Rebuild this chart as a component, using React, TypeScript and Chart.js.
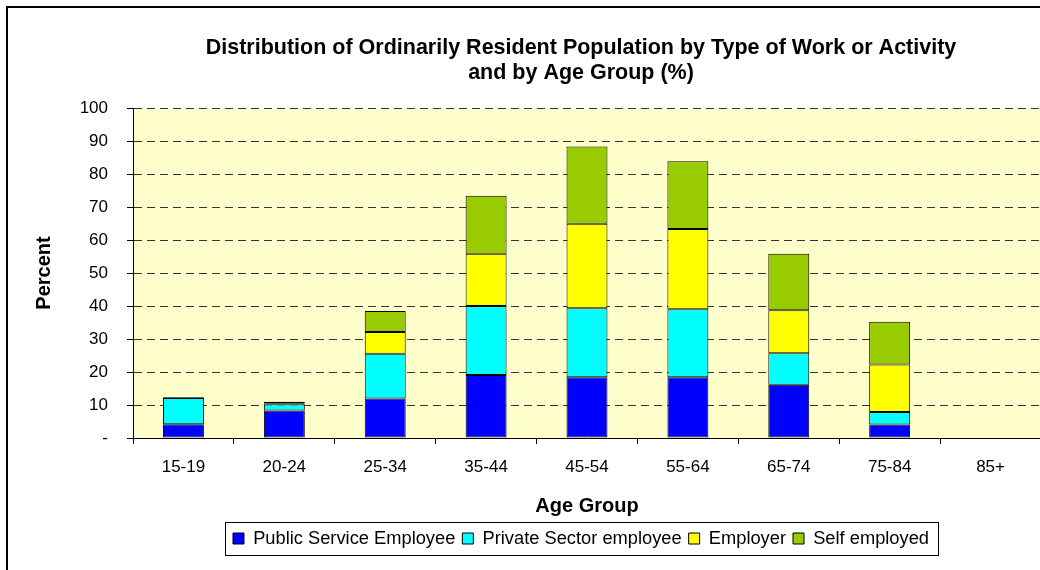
import { useEffect, useRef } from 'react';
import { Chart, registerables } from 'chart.js';

Chart.register(...registerables);

const categories = ['15-19', '20-24', '25-34', '35-44', '45-54', '55-64', '65-74', '75-84', '85+'];
const publicService = [4.2, 8.3, 12.0, 19.1, 18.4, 18.4, 16.1, 4.1, 0];
const privateSector = [7.9, 1.9, 13.5, 20.9, 20.9, 20.6, 9.6, 3.8, 0];
const employer = [0.1, 0.2, 6.6, 15.8, 25.6, 24.3, 13.0, 14.4, 0];
const selfEmployed = [0.2, 0.6, 6.4, 17.6, 23.4, 20.6, 17.1, 12.9, 0];
const seriesNames = ['Public Service Employee', 'Private Sector employee', 'Employer', 'Self employed'];
const seriesColors = ['#0000FF', '#00FFFF', '#FFFF00', '#99CC00'];
const titleLines = [
  'Distribution of Ordinarily Resident Population by Type of Work or Activity',
  'and by Age Group (%)',
];
const xTitle = 'Age Group';
const yTitle = 'Percent';
const yMin = 0;
const yMax = 100;
const yStep = 10;

const FONT = "'Liberation Sans', Arial, Helvetica, sans-serif";

const decorPlugin = {
  id: 'decor',
  beforeDraw(chart: any) {
    const { ctx, chartArea: a } = chart;
    ctx.save();
    ctx.fillStyle = '#ffffff';
    ctx.fillRect(0, 0, chart.width, chart.height);
    ctx.fillStyle = '#FFFFCC';
    ctx.fillRect(a.left, a.top, a.right - a.left, a.bottom - a.top);
    ctx.strokeStyle = '#000000';
    ctx.lineWidth = 2;
    ctx.strokeRect(7, 7, chart.width + 100, chart.height + 100);
    ctx.restore();
  },
  afterDraw(chart: any) {
    const hb = chart.legend && chart.legend.legendHitBoxes;
    if (!hb || !hb.length) return;
    let minL = Infinity;
    let maxR = -Infinity;
    hb.forEach((h: any) => {
      minL = Math.min(minL, h.left);
      maxR = Math.max(maxR, h.left + h.width);
    });
    const cy = hb[0].top + hb[0].height / 2;
    const { ctx } = chart;
    ctx.save();
    ctx.strokeStyle = '#000000';
    ctx.lineWidth = 1;
    const x0 = Math.round(minL - 8) + 0.5;
    const x1 = Math.round(maxR + 9) + 0.5;
    const y0 = Math.round(cy - 16.5) + 0.5;
    ctx.strokeRect(x0, y0, x1 - x0, 33);
    ctx.restore();
  },
};

export default function App() {
  const ref = useRef<HTMLCanvasElement>(null);

  useEffect(() => {
    const canvas = ref.current;
    if (!canvas) return;
    const seriesData = [publicService, privateSector, employer, selfEmployed];
    const chart = new Chart(canvas, {
      type: 'bar',
      data: {
        labels: categories,
        datasets: seriesData.map((d, i) => ({
          label: seriesNames[i],
          data: d,
          backgroundColor: seriesColors[i],
          borderColor: '#000000',
          borderWidth: (c: any) => (c.raw === 0 ? 0 : 1),
          borderSkipped: false,
          barPercentage: 0.406,
          categoryPercentage: 1,
        })),
      },
      options: {
        responsive: false,
        animation: false,
        devicePixelRatio: 1,
        layout: { padding: { left: 8, top: 0, right: 0, bottom: 12.35 } },
        plugins: {
          title: {
            display: true,
            text: titleLines,
            color: '#000000',
            fullSize: true,
            font: { family: FONT, size: 21.5, weight: 'bold', lineHeight: 25 / 21.5 },
            padding: { top: 35.5, bottom: 22.5 },
          },
          legend: {
            display: true,
            position: 'bottom',
            fullSize: true,
            labels: {
              color: '#000000',
              font: { family: FONT, size: 18.3 },
              boxWidth: 11,
              boxHeight: 11,
              padding: 7,
            },
          },
          tooltip: { enabled: false },
        },
        scales: {
          x: {
            stacked: true,
            grid: {
              display: true,
              drawOnChartArea: false,
              drawTicks: true,
              tickLength: 6,
              color: '#000000',
              offset: true,
            },
            border: { display: true, color: '#000000', width: 1 },
            ticks: { color: '#000000', font: { family: FONT, size: 17 }, padding: 12.8, maxRotation: 0, autoSkip: false },
            title: {
              display: true,
              text: xTitle,
              color: '#000000',
              font: { family: FONT, size: 20, weight: 'bold' },
              padding: { top: 0, bottom: 4.35 },
            },
            afterFit: (s: any) => {
              s.height = 84.35;
            },
          },
          y: {
            stacked: true,
            min: yMin,
            max: yMax,
            ticks: {
              stepSize: yStep,
              color: '#000000',
              font: { family: FONT, size: 17 },
              padding: 19,
              callback: (v: any) => (Number(v) === 0 ? '-' : String(v)),
            },
            grid: {
              color: (c: any) => (c.tick && c.tick.value === 0 ? 'rgba(0,0,0,0)' : '#333333'),
              tickColor: '#000000',
              tickLength: 6,
              drawTicks: true,
            },
            border: { display: true, color: '#000000', width: 1, dash: [8, 5] },
            title: {
              display: true,
              text: yTitle,
              color: '#000000',
              font: { family: FONT, size: 20, weight: 'bold' },
              padding: { top: 24, bottom: 0 },
            },
            afterFit: (s: any) => {
              s.width = 125;
            },
          },
          y2: {
            type: 'linear',
            position: 'right',
            display: true,
            ticks: { display: false },
            grid: { display: false, drawTicks: false },
            border: { display: false },
            afterFit: (s: any) => {
              s.width = 113;
            },
          },
        },
      },
      plugins: [decorPlugin],
    } as any);
    return () => chart.destroy();
  }, []);

  return (
    <div
      style={{
        position: 'absolute',
        left: 0,
        top: 0,
        width: 1040,
        height: 570,
        overflow: 'hidden',
        background: '#ffffff',
      }}
    >
      <canvas ref={ref} width={1154} height={570} style={{ display: 'block', width: 1154, height: 570 }} />
    </div>
  );
}
